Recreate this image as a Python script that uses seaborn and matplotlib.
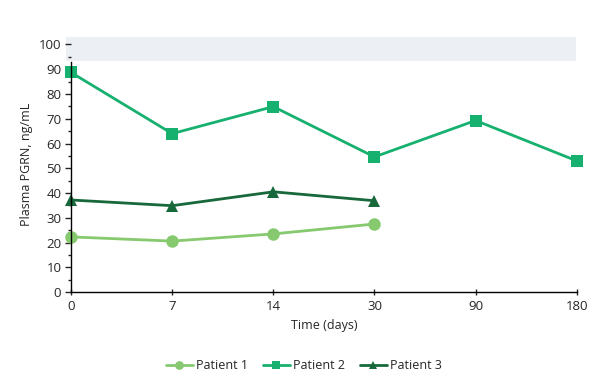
import matplotlib
matplotlib.use("Agg")
import matplotlib.pyplot as plt
import seaborn as sns
import pandas as pd
from matplotlib.ticker import MultipleLocator

# tidpunkter (dagar) och uppmätta PGRN-värden per patient
days = ["0", "7", "14", "30", "90", "180"]
patient1 = [22.3, 20.6, 23.5, 27.5]
patient2 = [88.7, 64.0, 74.9, 54.6, 69.3, 53.0]
patient3 = [37.2, 34.9, 40.5, 36.9]

rows = []
for name, vals in [("Patient 1", patient1), ("Patient 2", patient2), ("Patient 3", patient3)]:
    for i, v in enumerate(vals):
        rows.append({"pos": i, "day": days[i], "value": v, "patient": name})
df = pd.DataFrame(rows)

sns.set_style("white")
plt.rcParams["font.family"] = ["Open Sans", "DejaVu Sans"]

palette = {"Patient 1": "#86C96F", "Patient 2": "#16B06F", "Patient 3": "#17683A"}
markers = {"Patient 1": "o", "Patient 2": "s", "Patient 3": "^"}

fig = plt.figure(figsize=(6.02, 3.9), dpi=100)
ax = fig.add_axes([0.118, 0.251, 0.840, 0.654])

sns.lineplot(
    data=df, x="pos", y="value", hue="patient", style="patient",
    palette=palette, markers=markers, dashes=False, markersize=9,
    markeredgewidth=0, linewidth=2, ax=ax, clip_on=False,
)

ax.set_xlim(0, 5)
ax.set_ylim(0, 103)
ax.set_xticks(range(len(days)))
ax.set_xticklabels(days)
ax.yaxis.set_major_locator(MultipleLocator(10))
ax.yaxis.set_minor_locator(MultipleLocator(5))
ax.set_yticks(range(0, 101, 10))

for s in ["top", "right"]:
    ax.spines[s].set_visible(False)
ax.spines["left"].set_bounds(0, 93)
for s in ["left", "bottom"]:
    ax.spines[s].set_color("black")
    ax.spines[s].set_linewidth(1)

ax.tick_params(axis="y", which="major", direction="out", length=4, width=1, left=True, labelsize=9.5, pad=3)
ax.tick_params(axis="y", which="minor", direction="out", length=2.5, width=1, left=True)
ax.tick_params(axis="x", which="major", direction="inout", length=4, width=1, bottom=True, labelsize=9.5, pad=4)

# ljusgrått band överst
ax.axhspan(93.5, 103, xmin=-0.01, xmax=0.998, color="#ECF0F4", zorder=0, clip_on=False, lw=0)

ax.set_xlabel("Time (days)", fontsize=9)
ax.set_ylabel("Plasma PGRN, ng/mL", fontsize=9)

leg = ax.legend(loc="upper center", bbox_to_anchor=(0.46, -0.22), ncol=3, frameon=False,
                fontsize=9, handlelength=2.2, handletextpad=0.2, columnspacing=1.2, markerscale=0.7)

fig.savefig("out.png", dpi=100)
